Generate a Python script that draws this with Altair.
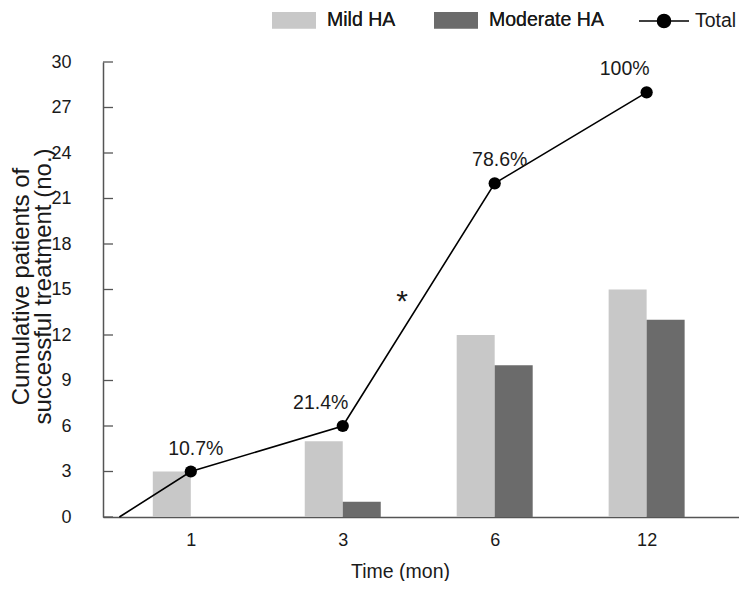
import json
import altair as alt
import pandas as pd

# ---- data ----
months = ["1", "3", "6", "12"]
mild_ha = [3, 5, 12, 15]
moderate_ha = [0, 1, 10, 13]
total = [3, 6, 22, 28]
total_pct = ["10.7%", "21.4%", "78.6%", "100%"]
y_ticks = [0, 3, 6, 9, 12, 15, 18, 21, 24, 27, 30]
line_origin_pos = -0.47      # line starts at the origin (time 0, 0 patients)
line_origin_value = 0
star_pos = [1.39]
star_value = [14.2]
star_text = ["*"]

FONT = "Liberation Sans"
AXIS_COLOR = "#555555"
TEXT_COLOR = "#1a1a1a"

pos = list(range(len(months)))

bars_df = pd.DataFrame({
    "pos": pos * 2,
    "month": months * 2,
    "series": ["Mild HA"] * len(months) + ["Moderate HA"] * len(months),
    "value": mild_ha + moderate_ha,
})
line_df = pd.DataFrame({
    "pos": [line_origin_pos] + pos,
    "value": [line_origin_value] + total,
    "name": ["Total"] * (len(pos) + 1),
})
pts_df = pd.DataFrame({"pos": pos, "value": total, "label": total_pct})
ticks_df = pd.DataFrame({"value": y_ticks})
star_df = pd.DataFrame({"pos": star_pos, "value": star_value, "text": star_text})

label_expr = json.dumps(months) + "[datum.value]"

x_scale = alt.Scale(domain=[-0.545, 3.575], nice=False, zero=False)
y_scale = alt.Scale(domain=[0, 30], nice=False, zero=True)

x_enc = alt.X(
    "pos:Q", scale=x_scale,
    axis=alt.Axis(
        values=pos, labelExpr=label_expr, title="Time (mon)",
        grid=False, ticks=False, tickSize=0,
        labelFont=FONT, labelFontSize=18, labelColor=TEXT_COLOR, labelPadding=14,
        titleFont=FONT, titleFontSize=19.5, titleFontWeight="normal", titleColor=TEXT_COLOR,
        titlePadding=13, titleX=297,
        domainColor=AXIS_COLOR, domainWidth=1.5,
    ),
)
y_enc = alt.Y(
    "value:Q", scale=y_scale,
    axis=alt.Axis(
        values=y_ticks, title=["Cumulative patients of", "successful treatment (no.)"],
        grid=False, ticks=False, tickSize=0,
        labelFont=FONT, labelFontSize=18, labelColor=TEXT_COLOR, labelPadding=32,
        titleFont=FONT, titleFontSize=24, titleFontWeight="normal", titleColor=TEXT_COLOR,
        titleLineHeight=22, titleX=-70, titleY=224, titleAlign="center", titleBaseline="bottom",
        domainColor=AXIS_COLOR, domainWidth=1.5,
    ),
)

rect_path = "M-1,-0.37L1,-0.37L1,0.37L-1,0.37Z"
line_dot_path = "M-1,0L1,0M0.26,0A0.26,0.26,0,1,1,-0.26,0A0.26,0.26,0,1,1,0.26,0Z"

fill_enc = alt.Fill(
    "series:N",
    scale=alt.Scale(domain=["Mild HA", "Moderate HA"], range=["#c8c8c8", "#6b6b6b"]),
    legend=alt.Legend(
        title=None, orient="none", legendX=169, legendY=-64, direction="horizontal",
        symbolType=rect_path, symbolSize=1936, symbolStrokeWidth=0,
        labelOffset=11, columnPadding=38, padding=0,
        labelFont=FONT, labelFontSize=19.5, labelFontWeight="normal",
        labelColor=TEXT_COLOR, labelLimit=300,
    ),
)

base = alt.Chart(bars_df)

mild_bars = base.transform_filter(alt.datum.series == "Mild HA").mark_bar(
    size=38, xOffset=-19
).encode(x=x_enc, y=y_enc, fill=fill_enc)

mod_bars = base.transform_filter(alt.datum.series == "Moderate HA").mark_bar(
    size=38, xOffset=19
).encode(x=x_enc, y=y_enc, fill=fill_enc)

line = alt.Chart(line_df).mark_line(strokeWidth=1.6).encode(
    x=x_enc, y=y_enc,
    stroke=alt.Stroke(
        "name:N",
        scale=alt.Scale(domain=["Total"], range=["black"]),
        legend=alt.Legend(
            title=None, orient="none", legendX=535, legendY=-67, direction="horizontal",
            symbolType=line_dot_path, symbolSize=2500, symbolFillColor="black",
            symbolStrokeColor="black", symbolStrokeWidth=1.6,
            labelOffset=5, padding=0,
            labelFont=FONT, labelFontSize=19.5, labelFontWeight="normal", labelColor=TEXT_COLOR,
        ),
    ),
)

points = alt.Chart(pts_df).mark_circle(size=150, color="black", opacity=1).encode(
    x=x_enc, y=y_enc
)

labels_a = alt.Chart(pts_df).transform_filter(
    alt.FieldOneOfPredicate(field="label", oneOf=["10.7%", "78.6%"])
).mark_text(font=FONT, fontSize=19.5, color=TEXT_COLOR, dy=-23, dx=5, baseline="middle").encode(
    x=x_enc, y=y_enc, text="label:N"
)
labels_b = alt.Chart(pts_df).transform_filter(
    alt.FieldOneOfPredicate(field="label", oneOf=["21.4%", "100%"])
).mark_text(font=FONT, fontSize=19.5, color=TEXT_COLOR, dy=-23, dx=-22, baseline="middle").encode(
    x=x_enc, y=y_enc, text="label:N"
)

star = alt.Chart(star_df).mark_text(font=FONT, fontSize=30, color=TEXT_COLOR, baseline="middle").encode(
    x=x_enc, y=y_enc, text="text:N"
)

y_tick_marks = alt.Chart(ticks_df).mark_rule(color=AXIS_COLOR, strokeWidth=1.3).encode(
    y=alt.Y("value:Q", scale=y_scale), x=alt.value(0), x2=alt.value(10)
)

chart = alt.layer(
    mild_bars, mod_bars, y_tick_marks, line, points, labels_a, labels_b, star
).resolve_scale(fill="independent", stroke="independent").properties(
    width=636, height=455, autosize="none",
    padding={"left": 95, "top": 54, "right": 0, "bottom": 64},
).configure_view(stroke=None)

chart.save("out.html", embed_options={"renderer": "svg", "actions": False})
